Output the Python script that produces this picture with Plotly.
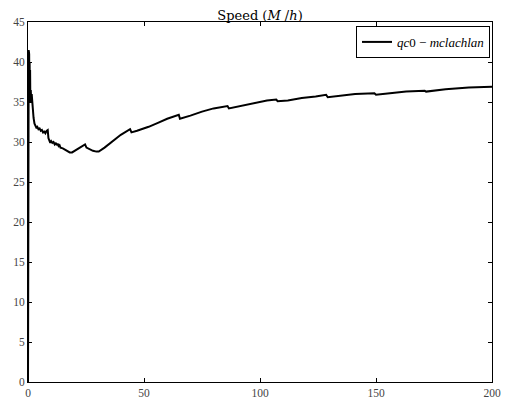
import plotly.graph_objects as go

# Data
time_x = [0, 0.3, 0.4, 0.5, 0.6, 0.7, 0.8, 0.9, 1.0, 1.2, 1.4, 1.6, 1.8, 2.0, 2.4, 2.8,
          3.2, 3.6, 4.0, 4.5, 5.0, 5.5, 6.0, 6.5, 7.0, 7.5, 8.0, 8.5, 8.8, 9.2, 9.6, 10,
          10.5, 11, 11.5, 12, 12.4, 12.8, 13.2, 13.6, 14, 15, 16, 17, 18, 19,
          22, 24.6, 25.2, 26, 27, 28, 29.5, 30.5, 33, 36, 40, 44, 44.6, 47, 52, 56, 60,
          65, 65.5, 70, 75, 80, 86, 86.6, 92, 98, 103, 107, 107.6, 112, 118, 124,
          128.5, 129.2, 135, 141, 149.3, 150, 156, 163, 171, 171.6, 180, 190, 200]
speed_y = [0, 41.5, 38, 41, 36, 40, 35, 39, 35.5, 36.5, 35, 36, 35.2, 34, 33, 32.3,
           32, 31.8, 31.9, 31.6, 31.7, 31.4, 31.5, 31.2, 31.3, 31.1, 31.4, 31.5, 30.5, 30.0, 29.9, 30.1,
           29.9, 30.0, 29.7, 29.9, 29.6, 29.8, 29.5, 29.6, 29.3, 29.2, 29.0, 28.8, 28.7, 28.7,
           29.2, 29.7, 29.3, 29.2, 29.0, 28.9, 28.8, 28.8, 29.3, 30.0, 30.9, 31.6, 31.2, 31.4, 31.9, 32.4, 32.9,
           33.4, 32.9, 33.3, 33.8, 34.2, 34.5, 34.2, 34.5, 34.9, 35.2, 35.3, 35.1, 35.2, 35.5, 35.7,
           35.9, 35.6, 35.8, 36.0, 36.1, 35.9, 36.1, 36.3, 36.4, 36.3, 36.6, 36.8, 36.9]

x_ticks = [0, 50, 100, 150, 200]
y_ticks = [0, 5, 10, 15, 20, 25, 30, 35, 40, 45]
series_name = "<i>qc</i>0 − <i>mclachlan</i>"
title_text = "Speed (<i>M</i> /<i>h</i>)"

FONT = "Liberation Serif"
TITLE_FONT = "DejaVu Serif"

fig = go.Figure()
fig.add_trace(go.Scatter(x=time_x, y=speed_y, mode="lines", name=series_name,
                         line=dict(color="black", width=2)))

axis_common = dict(showgrid=False, zeroline=False, showline=True, linecolor="black",
                   linewidth=1, mirror="ticks", ticks="inside", ticklen=4,
                   tickcolor="black", automargin=False,
                   tickfont=dict(family=FONT, size=11.5, color="#444"))

# The page body has an 8px default margin, so the figure is sized to fit the window.
fig.update_layout(
    width=502, height=399,
    margin=dict(l=20, r=18, t=14, b=25),
    paper_bgcolor="white", plot_bgcolor="white",
    title=dict(text=title_text, x=0.5, xref="paper", y=1, yref="paper",
               yanchor="bottom", pad=dict(b=2),
               font=dict(family=TITLE_FONT, size=13, color="black")),
    xaxis=dict(range=[0, 200], tickvals=x_ticks, **axis_common),
    yaxis=dict(range=[0, 45], tickvals=y_ticks, **axis_common),
    showlegend=True,
    legend=dict(x=0.9957, y=0.989, xanchor="right", yanchor="top",
                bordercolor="black", borderwidth=1, bgcolor="white",
                font=dict(family=FONT, size=13, color="black")),
)

fig.write_html("out.html")
